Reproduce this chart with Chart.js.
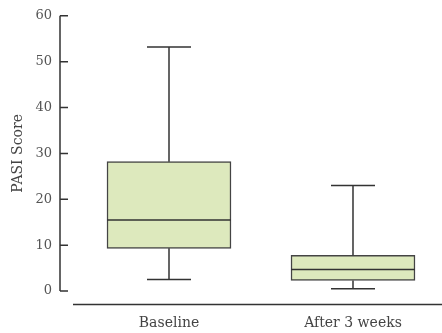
<!DOCTYPE html>
<html>
<head>
<meta charset="utf-8">
<script src="https://cdn.jsdelivr.net/npm/chart.js@4"></script>
<style>
  html, body { margin: 0; padding: 0; background: #fff; }
  #wrap { width: 442px; height: 333px; }
</style>
</head>
<body>
<div id="wrap"><canvas id="boxChart"></canvas></div>
<script>
// Datos (PASI Score)
const categories = ['Baseline', 'After 3 weeks'];
const whiskerMin = [2.5, 0.5];
const quartile1 = [9.3, 2.3];
const medians = [15.5, 4.7];
const quartile3 = [28.2, 7.8];
const whiskerMax = [53.2, 23.0];
const yTicks = [0, 10, 20, 30, 40, 50, 60];

const axisColor = '#333';
const boxFill = '#dde9bd';
const boxBorder = '#444';
const serif = "'DejaVu Serif', 'Liberation Serif', serif";

// Dibuja ejes, mediana y bigotes con las escalas de Chart.js
const boxPlotPlugin = {
    id: 'boxPlot',
    afterDatasetsDraw(chart) {
        const ctx = chart.ctx;
        const xs = chart.scales.x;
        const ys = chart.scales.y;
        const area = chart.chartArea;
        const meta = chart.getDatasetMeta(0);
        const capHalf = 22;

        ctx.save();
        ctx.strokeStyle = axisColor;
        ctx.lineWidth = 1.5;

        categories.forEach((c, i) => {
            const bar = meta.data[i];
            const x = xs.getPixelForValue(i + 1);
            const half = bar.width / 2;
            const yMin = ys.getPixelForValue(whiskerMin[i]);
            const yQ1 = ys.getPixelForValue(quartile1[i]);
            const yMed = ys.getPixelForValue(medians[i]);
            const yQ3 = ys.getPixelForValue(quartile3[i]);
            const yMax = ys.getPixelForValue(whiskerMax[i]);

            ctx.beginPath();
            // bigote superior
            ctx.moveTo(x, yQ3); ctx.lineTo(x, yMax);
            ctx.moveTo(x - capHalf, yMax); ctx.lineTo(x + capHalf, yMax);
            // bigote inferior
            ctx.moveTo(x, yQ1); ctx.lineTo(x, yMin);
            ctx.moveTo(x - capHalf, yMin); ctx.lineTo(x + capHalf, yMin);
            // mediana
            ctx.moveTo(bar.x - half, yMed); ctx.lineTo(bar.x + half, yMed);
            ctx.stroke();
        });

        // eje Y con marcas hacia dentro
        const yTop = ys.getPixelForValue(yTicks[yTicks.length - 1]);
        const yBottom = ys.getPixelForValue(yTicks[0]);
        ctx.beginPath();
        ctx.moveTo(area.left, yTop); ctx.lineTo(area.left, yBottom);
        yTicks.forEach(v => {
            const y = ys.getPixelForValue(v);
            ctx.moveTo(area.left, y); ctx.lineTo(area.left + 8, y);
        });
        // eje X separado
        const yAxisX = area.bottom + 13.5;
        ctx.moveTo(area.left + 13, yAxisX); ctx.lineTo(chart.width, yAxisX);
        ctx.stroke();
        ctx.restore();
    }
};

new Chart(document.getElementById('boxChart').getContext('2d'), {
    type: 'bar',
    data: {
        datasets: [{
            label: 'PASI Score',
            data: categories.map((c, i) => ({ x: i + 1, y: [quartile1[i], quartile3[i]] })),
            backgroundColor: boxFill,
            borderColor: boxBorder,
            borderWidth: 1.5,
            borderSkipped: false,
            barThickness: 124
        }]
    },
    options: {
        responsive: true,
        maintainAspectRatio: false,
        animation: false,
        layout: { padding: { top: 14, right: 0, bottom: 0, left: 0 } },
        plugins: {
            legend: { display: false },
            tooltip: { enabled: false }
        },
        scales: {
            x: {
                type: 'linear',
                offset: false,
                min: 0.4076,
                max: 2.4837,
                afterBuildTicks: axis => { axis.ticks = categories.map((c, i) => ({ value: i + 1 })); },
                afterFit: axis => { axis.height = 42; },
                grid: { display: false, drawTicks: false },
                border: { display: false },
                ticks: {
                    autoSkip: false,
                    maxRotation: 0,
                    padding: 24,
                    color: '#444',
                    font: { family: serif, size: 14 },
                    callback: v => categories[v - 1] || ''
                }
            },
            y: {
                min: 0,
                max: 60,
                afterBuildTicks: axis => { axis.ticks = yTicks.map(v => ({ value: v })); },
                afterFit: axis => { axis.width = 60; },
                grid: { display: false, drawTicks: false },
                border: { display: false },
                ticks: {
                    padding: 8,
                    color: '#555',
                    font: { family: serif, size: 13 }
                },
                title: {
                    display: true,
                    text: 'PASI Score',
                    color: '#444',
                    padding: { top: 10, bottom: 0 },
                    font: { family: serif, size: 14 }
                }
            }
        }
    },
    plugins: [boxPlotPlugin]
});
</script>
</body>
</html>
